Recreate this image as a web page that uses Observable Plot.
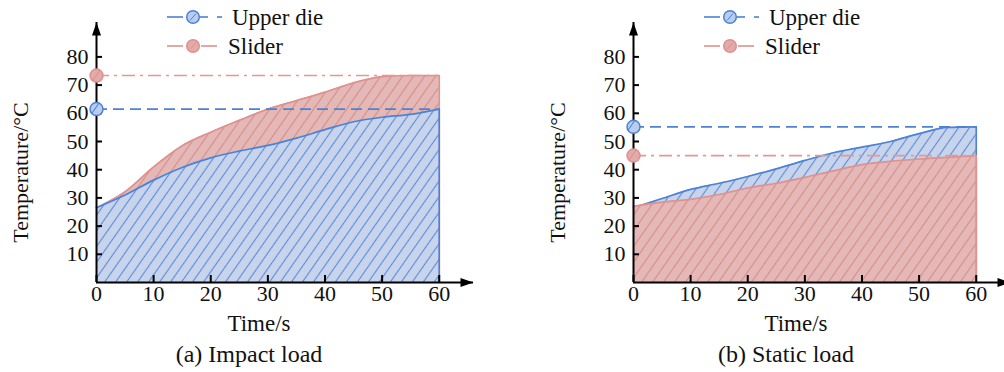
<!DOCTYPE html>
<html><head><meta charset="utf-8">
<script src="https://cdn.jsdelivr.net/npm/d3@7"></script>
<script src="https://cdn.jsdelivr.net/npm/@observablehq/plot@0.6"></script>
<style>
html,body{margin:0;padding:0;background:#fff;overflow:hidden}
#wrap{position:relative;width:1004px;height:372px;overflow:hidden;font-family:'Liberation Serif','Times New Roman',Times,'DejaVu Serif',serif;color:#111}
.panel{position:absolute;top:0;width:537px;height:372px}
.panel svg.legend{position:absolute;left:0;top:0}
.caption{position:absolute;left:0;top:335px;width:498px;height:37px;line-height:38px;text-align:center;font-size:24px}
</style></head><body><div id="wrap"></div>
<script>
// ---- data ----
const time = [0, 5, 10, 15, 20, 25, 30, 35, 40, 45, 50, 55, 60];
const impactUpper  = [26.5, 31.0, 36.3, 40.8, 44.2, 46.6, 48.6, 51.2, 54.2, 57.0, 58.6, 59.6, 61.5];
const impactSlider = [26.5, 32.2, 41.0, 48.5, 53.3, 57.5, 61.5, 64.5, 67.5, 70.8, 73.0, 73.4, 73.4];
const staticUpper  = [26.5, 29.8, 33.0, 35.2, 37.6, 40.3, 43.3, 46.0, 48.0, 50.0, 52.8, 55.0, 55.2];
const staticSlider = [27.0, 28.5, 29.5, 31.2, 33.5, 35.2, 37.3, 39.6, 41.8, 43.0, 43.8, 44.4, 45.0];
const xTicks = [0, 10, 20, 30, 40, 50, 60];
const yTicks = [10, 20, 30, 40, 50, 60, 70, 80];
const seriesNames = {upper: "Upper die", slider: "Slider"};
const captions = ["(a) Impact load", "(b) Static load"];
const xLabel = "Time/s";
const yLabel = "Temperature/°C";

// ---- style ----
const FONT = "'Liberation Serif', 'Times New Roman', Times, 'DejaVu Serif', serif";
const col = {
  upper: {line: "#4b82d6", fill: "#c7d4ec", hatch: "#5b8dd8", mark: "#b9cdef"},
  slider: {line: "#df918d", fill: "#e3b8b7", hatch: "#d88c8a", mark: "#e2aaa8"}
};
const W = 537, H = 335, mL = 96, mR = 64, mT = 22, mB = 53;
const frameW = W - mL - mR, frameH = H - mT - mB;
const xMax = 66, yMax = 92.2;
const arrowHead = {draw(ctx) { ctx.moveTo(0, 0); ctx.lineTo(-4.5, 13); ctx.lineTo(4.5, 13); ctx.closePath(); }};

function makePanel(id, upperVals, sliderVals, order, caption, leftPx) {
  const rows = vals => time.map((t, i) => ({t, v: vals[i]}));
  const data = {upper: rows(upperVals), slider: rows(sliderVals)};
  const defs = () => {
    const d = d3.create("svg:defs");
    for (const k of ["upper", "slider"]) {
      const p = d.append("pattern").attr("id", `${id}-${k}`).attr("patternUnits", "userSpaceOnUse")
        .attr("width", 9).attr("height", 9).attr("patternTransform", "rotate(35)");
      p.append("rect").attr("width", 9).attr("height", 9).attr("fill", col[k].fill);
      p.append("line").attr("x1", 4.5).attr("x2", 4.5).attr("y1", 0).attr("y2", 9)
        .attr("stroke", col[k].hatch).attr("stroke-width", 1.1);
      const m = d.append("pattern").attr("id", `${id}-${k}-m`).attr("patternUnits", "userSpaceOnUse")
        .attr("width", 9).attr("height", 9).attr("patternTransform", "rotate(35)");
      m.append("rect").attr("width", 9).attr("height", 9).attr("fill", col[k].mark);
      m.append("line").attr("x1", 4.5).attr("x2", 4.5).attr("y1", 0).attr("y2", 9)
        .attr("stroke", col[k].line).attr("stroke-width", 1);
    }
    return d.node();
  };
  const marks = [defs];
  for (const k of order) {
    const last = data[k][data[k].length - 1];
    marks.push(
      Plot.areaY(data[k], {x: "t", y: "v", fill: `url(#${id}-${k})`, curve: "monotone-x"}),
      Plot.lineY(data[k], {x: "t", y: "v", stroke: col[k].line, strokeWidth: 1.7, curve: "monotone-x"}),
      Plot.ruleX([last], {x: "t", y1: () => 0, y2: "v", stroke: col[k].line, strokeWidth: 1.7})
    );
  }
  // reference lines at final values
  const lastU = data.upper[data.upper.length - 1];
  const lastS = data.slider[data.slider.length - 1];
  marks.push(
    Plot.ruleY([lastU], {y: "v", x1: () => 0, x2: "t", stroke: col.upper.line, strokeWidth: 1.7, strokeDasharray: "11,6"}),
    Plot.ruleY([lastS], {y: "v", x1: () => 0, x2: "t", stroke: "#e39894", strokeWidth: 1.7, strokeDasharray: "13,5,3,5"})
  );
  // axes
  marks.push(
    Plot.ruleX([0], {stroke: "#000", strokeWidth: 2}),
    Plot.ruleY([0], {stroke: "#000", strokeWidth: 2}),
    Plot.dot([{x: 0, y: yMax}], {x: "x", y: "y", symbol: arrowHead, fill: "#000", stroke: null}),
    Plot.dot([{x: xMax, y: 0}], {x: "x", y: "y", symbol: arrowHead, fill: "#000", stroke: null, rotate: 90}),
    Plot.tickY(yTicks, {y: d => d, insetRight: frameW - 6, stroke: "#000", strokeWidth: 2}),
    Plot.tickX(xTicks, {x: d => d, insetTop: frameH - 7, stroke: "#000", strokeWidth: 2}),
    Plot.axisY(yTicks, {tickSize: 0, tickPadding: 8, label: null, fontSize: 22, fontFamily: FONT}),
    Plot.axisX(xTicks, {tickSize: 0, tickPadding: 3, label: null, fontSize: 22, fontFamily: FONT}),
    Plot.text([yLabel], {text: d => d, frameAnchor: "left", dx: -76, dy: 20, rotate: -90, textAnchor: "middle", lineAnchor: "middle", fontSize: 22, fontFamily: FONT}),
    Plot.text([xLabel], {text: d => d, frameAnchor: "bottom", dx: -26, dy: 41, textAnchor: "middle", lineAnchor: "middle", fontSize: 23, fontFamily: FONT}),
    // markers on y axis
    Plot.dot([lastS], {x: () => 0, y: "v", r: 6.5, fill: `url(#${id}-slider-m)`, stroke: col.slider.line, strokeWidth: 1.5}),
    Plot.dot([lastU], {x: () => 0, y: "v", r: 6.5, fill: `url(#${id}-upper-m)`, stroke: col.upper.line, strokeWidth: 1.5})
  );
  const chart = Plot.plot({
    width: W, height: H, marginLeft: mL, marginRight: mR, marginTop: mT, marginBottom: mB,
    x: {domain: [0, xMax]}, y: {domain: [0, yMax]},
    style: {fontFamily: FONT, fontSize: "22px", color: "#111", background: "transparent", overflow: "visible"},
    marks
  });
  const div = document.createElement("div");
  div.className = "panel";
  div.style.left = leftPx + "px";
  div.appendChild(chart);
  // legend
  const lg = d3.create("svg").attr("class", "legend").attr("width", 360).attr("height", 62)
    .style("font-family", FONT);
  const item = (k, y, segs, tx) => {
    for (const [a, b] of segs) lg.append("line").attr("x1", a).attr("x2", b).attr("y1", y).attr("y2", y)
      .attr("stroke", col[k].line).attr("stroke-width", 1.6);
    lg.append("circle").attr("cx", 193).attr("cy", y).attr("r", 6.3).attr("fill", col[k].mark)
      .attr("stroke", col[k].line).attr("stroke-width", 1.5);
    lg.append("line").attr("x1", 190).attr("y1", y + 3.5).attr("x2", 196).attr("y2", y - 3.5)
      .attr("stroke", col[k].line).attr("stroke-width", 1);
    lg.append("text").attr("x", tx).attr("y", y).attr("dy", "0.35em").attr("font-size", 23)
      .attr("font-family", FONT).attr("fill", "#111").text(seriesNames[k]);
  };
  item("upper", 17, [[167, 183], [200, 208], [217, 222]], 232);
  item("slider", 46, [[167, 183], [201, 217]], 228);
  div.appendChild(lg.node());
  const cap = document.createElement("div");
  cap.className = "caption";
  cap.textContent = caption;
  div.appendChild(cap);
  document.getElementById("wrap").appendChild(div);
}

makePanel("pa", impactUpper, impactSlider, ["slider", "upper"], captions[0], 0);
makePanel("pb", staticUpper, staticSlider, ["upper", "slider"], captions[1], 537);
</script>
</body></html>
